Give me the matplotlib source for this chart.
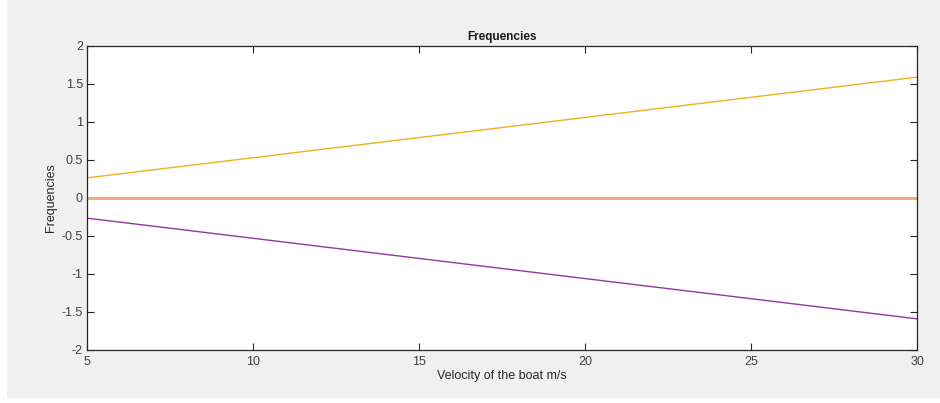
import matplotlib.pyplot as plt
import matplotlib.patches as mpatches

plt.rcParams['font.family'] = ['Liberation Sans', 'DejaVu Sans']

# boat velocity (m/s) and the three frequency branches
velocity = [5, 10, 15, 20, 25, 30]
freq_upper = [0.265, 0.53, 0.795, 1.06, 1.325, 1.59]
freq_zero = [0, 0, 0, 0, 0, 0]
freq_lower = [-0.265, -0.53, -0.795, -1.06, -1.325, -1.59]

x_ticks = [5, 10, 15, 20, 25, 30]
y_ticks = [-2, -1.5, -1, -0.5, 0, 0.5, 1, 1.5, 2]
y_labels = ['-2', '-1.5', '-1', '-0.5', '0', '0.5', '1', '1.5', '2']

fig = plt.figure(figsize=(9.4, 4.03), dpi=100)
fig.patch.set_facecolor('white')
# grey window background
fig.patches.append(mpatches.Rectangle((7 / 940, 5 / 403), 1 - 7 / 940, 1 - 5 / 403,
                                      transform=fig.transFigure, facecolor='#f0f0f0',
                                      edgecolor='none', zorder=-10))

ax = fig.add_axes([87 / 940, 1 - 350 / 403, 830 / 940, 304 / 403])
ax.set_facecolor('white')

ax.plot(velocity, freq_upper, color='#EDB120', linewidth=1.0)
ax.plot(velocity, freq_zero, color='#F2A98A', linewidth=2.2)
ax.plot(velocity, freq_lower, color='#8E3A9E', linewidth=1.0)

ax.set_xlim(5, 30)
ax.set_ylim(-2, 2)
ax.set_xticks(x_ticks)
ax.set_yticks(y_ticks)
ax.set_yticklabels(y_labels)

ax.tick_params(direction='in', length=5, width=0.8, top=True, right=True,
               labelsize=9, colors='#262626', labelcolor='#404040')
ax.tick_params(axis='x', pad=4)
ax.tick_params(axis='y', pad=3)
for side in ax.spines.values():
    side.set_color('#262626')
    side.set_linewidth(0.9)

ax.set_title('Frequencies', fontsize=8.5, fontweight='bold', color='#1a1a1a', pad=4)
ax.set_xlabel('Velocity of the boat m/s', fontsize=9, color='#262626', labelpad=2)
ax.set_ylabel('Frequencies', fontsize=9, color='#262626', labelpad=3)

plt.savefig('out.png', dpi=100, facecolor=fig.get_facecolor())
